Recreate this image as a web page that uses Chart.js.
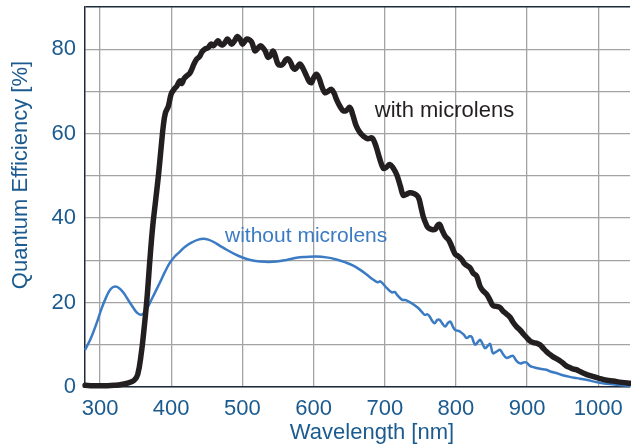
<!DOCTYPE html>
<html lang="en">
<head>
  <meta charset="UTF-8">
  <title>Quantum Efficiency</title>
  <script src="https://cdn.jsdelivr.net/npm/chart.js"></script>
  <style>
    body { margin: 0; background: #fff; }
    #wrap { width: 631px; height: 445px; }
  </style>
</head>
<body>
  <div id="wrap"><canvas id="qeChart"></canvas></div>

  <script>
    // with microlens (black curve)
    const wavelengthWith = [279, 290, 300, 310, 320, 330, 340, 348, 353, 358, 362, 366, 370, 374, 378, 382, 386, 389, 392, 396,
      400, 404, 408, 412, 415, 418, 422, 426, 429, 432, 436, 440, 443, 447, 452, 456, 459, 463, 466, 469,
      472, 476, 479, 482, 485, 489, 493, 497, 500, 503, 506, 510, 513, 516, 518, 522, 525, 528, 532, 536,
      540, 543, 546, 550, 554, 557, 561, 564, 568, 571, 574, 578, 581, 585, 590, 594, 597, 600, 604, 608,
      612, 616, 620, 625, 629, 632, 637, 642, 646, 651, 655, 660, 665, 670, 676, 682, 686, 689, 693, 698,
      702, 707, 712, 717, 722, 726, 730, 735, 741, 747, 751, 754, 758, 761, 766, 771, 774, 777, 781, 785,
      789, 792, 796, 799, 803, 808, 812, 815, 820, 824, 829, 834, 838, 843, 848, 852, 857, 862, 866, 871,
      876, 880, 885, 890, 895, 900, 904, 909, 913, 918, 922, 927, 932, 936, 941, 946, 950, 955, 960, 964,
      969, 975, 983, 992, 1002, 1012, 1021, 1033, 1045];
    const qeWith = [0.4, 0.3, 0.3, 0.3, 0.4, 0.6, 1.0, 1.6, 3.0, 8.0, 14, 21, 30, 38, 44, 50, 57, 62, 65, 66.5,
      69.4, 70.5, 71.3, 72.5, 71.9, 73.0, 73.7, 74.3, 75.3, 76.5, 77.7, 78.3, 79.3, 80.0, 80.4, 81.2, 80.8, 81.5, 82.0, 81.2,
      81.0, 81.7, 82.4, 81.8, 81.2, 82.0, 83.0, 82.3, 81.2, 81.8, 82.4, 82.2, 81.7, 80.3, 79.6, 80.3, 80.8, 80.5, 79.6, 78.1,
      78.6, 79.6, 78.5, 76.5, 76.2, 76.5, 77.5, 77.7, 76.8, 75.6, 75.3, 76.0, 76.5, 75.5, 73.7, 72.3, 72.1, 73.2, 74.1, 73.0,
      71.0, 69.7, 70.0, 70.5, 69.5, 68.2, 66.5, 65.4, 65.5, 66.2, 64.5, 61.8, 60.3, 59.4, 58.8, 59.0, 57.8, 56.3, 54.0, 51.8,
      52.0, 52.7, 51.8, 50.2, 47.5, 45.4, 45.6, 46.0, 45.8, 45.0, 42.5, 40.4, 38.6, 37.7, 37.3, 37.4, 38.2, 38.5, 37.0, 35.7,
      35.0, 34.1, 32.5, 31.4, 31.0, 30.2, 29.2, 28.8, 28.2, 27.0, 26.3, 23.8, 22.8, 22.0, 20.5, 19.3, 19.1, 18.8, 18.0, 17.3,
      16.5, 15.4, 14.3, 13.5, 12.5, 11.6, 10.9, 10.5, 10.4, 10.0, 9.3, 8.4, 7.7, 7.2, 6.7, 6.2, 5.7, 5.0, 4.6, 4.3,
      4.1, 3.6, 3.0, 2.5, 2.0, 1.6, 1.4, 1.1, 0.9];

    // without microlens (blue curve)
    const wavelengthWithout = [279, 287, 295, 302, 309, 315, 321, 327, 333, 340, 347, 352, 358, 364, 370, 377, 384, 391, 398, 405,
      412, 420, 431, 438, 445, 452, 459, 468, 478, 490, 501, 513, 525, 537, 548, 562, 576, 590, 604, 618,
      632, 645, 655, 665, 674, 684, 690, 694, 703, 710, 714, 717, 724, 729, 733, 740, 747, 752, 756, 760,
      763, 767, 770, 774, 777, 781, 785, 788, 792, 796, 799, 803, 806, 811, 815, 819, 822, 825, 827, 831,
      834, 838, 841, 845, 848, 852, 857, 862, 866, 871, 876, 880, 885, 890, 895, 899, 904, 909, 918, 927,
      934, 941, 950, 960, 970, 983, 1002, 1022, 1045];
    const qeWithout = [8.8, 11.5, 15.0, 18.5, 21.4, 23.2, 23.8, 23.4, 22.3, 20.5, 18.7, 17.6, 17.1, 18.0, 19.9, 22.3, 24.7, 27.2, 29.4, 30.9,
      32.0, 33.3, 34.4, 34.9, 35.1, 34.9, 34.4, 33.5, 32.5, 31.4, 30.6, 30.0, 29.7, 29.6, 29.7, 30.1, 30.6, 30.8, 30.9, 30.7,
      30.2, 29.5, 28.8, 27.8, 26.7, 25.4, 24.8, 25.0, 23.4, 22.4, 22.5, 21.9, 20.7, 20.6, 20.3, 19.6, 18.7, 17.8, 17.1, 17.2,
      16.7, 15.6, 15.1, 15.9, 15.9, 15.0, 14.3, 15.0, 15.5, 14.2, 13.5, 13.3, 13.1, 12.4, 11.6, 12.0, 11.9, 10.6, 10.0, 10.7,
      11.2, 10.0, 9.2, 9.8, 10.2, 8.0, 8.4, 8.8, 7.8, 6.9, 7.2, 7.4, 6.2, 5.6, 5.8, 5.8, 5.0, 4.7, 4.3, 4.1,
      3.6, 3.3, 2.8, 2.4, 2.1, 1.7, 1.0, 0.6, 0.2];

    const xTickValues = [300, 350, 400, 450, 500, 550, 600, 650, 700, 750, 800, 850, 900, 950, 1000];
    const yTickValues = [0, 10, 20, 30, 40, 50, 60, 70, 80, 90];

    const textBlue = '#1b5b8f';
    const fontFamily = '"Liberation Sans", Arial, sans-serif';

    // titles and curve labels
    const decor = {
      id: 'decor',
      afterDraw(chart) {
        const ctx = chart.ctx;
        const x = chart.scales.x, y = chart.scales.y;
        ctx.save();
        ctx.font = '22px ' + fontFamily;
        ctx.textAlign = 'center';
        ctx.textBaseline = 'middle';
        ctx.fillStyle = textBlue;
        ctx.fillText('Wavelength [nm]', 372, 433);
        ctx.translate(21, 175);
        ctx.rotate(-Math.PI / 2);
        ctx.fillText('Quantum Efficiency [%]', 0, 0);
        ctx.restore();

        ctx.save();
        ctx.font = '22px ' + fontFamily;
        ctx.textAlign = 'left';
        ctx.textBaseline = 'alphabetic';
        ctx.fillStyle = '#231f20';
        ctx.fillText('with microlens', x.getPixelForValue(686), y.getPixelForValue(63.9));
        ctx.font = '21px ' + fontFamily;
        ctx.fillStyle = '#3a7bc4';
        ctx.fillText('without microlens', x.getPixelForValue(475.6), y.getPixelForValue(34.4));
        ctx.restore();
      }
    };

    const ctx = document.getElementById('qeChart').getContext('2d');
    new Chart(ctx, {
      type: 'line',
      data: {
        datasets: [{
          label: 'with microlens',
          data: wavelengthWith.map((w, i) => ({ x: w, y: qeWith[i] })),
          borderColor: '#231f20',
          borderWidth: 5.5,
          tension: 0.4,
          pointRadius: 0,
          borderJoinStyle: 'round',
          borderCapStyle: 'round',
          clip: false
        }, {
          label: 'without microlens',
          data: wavelengthWithout.map((w, i) => ({ x: w, y: qeWithout[i] })),
          borderColor: '#3a7bc4',
          borderWidth: 2.5,
          tension: 0.4,
          pointRadius: 0,
          borderJoinStyle: 'round',
          clip: false
        }]
      },
      options: {
        responsive: true,
        maintainAspectRatio: false,
        animation: false,
        layout: { padding: { top: 7, right: 1, left: 0, bottom: 0 } },
        plugins: {
          legend: { display: false },
          tooltip: { enabled: false }
        },
        scales: {
          x: {
            type: 'linear',
            min: 278.9,
            max: 1044.5,
            afterFit: scale => {
              scale.height = 58;
              scale.paddingLeft = 0;
              scale.paddingRight = 0;
            },
            afterBuildTicks: scale => { scale.ticks = xTickValues.map(v => ({ value: v })); },
            border: { color: '#1c2a3a', width: 1.5 },
            grid: { color: '#a3a3a3', lineWidth: 1.3, drawTicks: false },
            ticks: {
              padding: 9,
              color: textBlue,
              font: { family: fontFamily, size: 22 },
              maxRotation: 0,
              callback: v => (v % 100 === 0 ? v : '')
            }
          },
          y: {
            min: 0,
            max: 90,
            afterFit: scale => {
              scale.width = 85;
              scale.paddingTop = 0;
              scale.paddingBottom = 0;
            },
            afterBuildTicks: scale => { scale.ticks = yTickValues.map(v => ({ value: v })); },
            border: { color: '#1c2a3a', width: 1.5 },
            grid: {
              drawTicks: false,
              color: c => (c.tick && c.tick.value === 90 ? '#1c2a3a' : '#a3a3a3'),
              lineWidth: c => (c.tick && c.tick.value === 90 ? 1.5 : 1.3)
            },
            ticks: {
              padding: 9,
              color: textBlue,
              font: { family: fontFamily, size: 22 },
              callback: v => (v % 20 === 0 && v !== 90 ? v : '')
            }
          }
        }
      },
      plugins: [decor]
    });
  </script>
</body>
</html>
